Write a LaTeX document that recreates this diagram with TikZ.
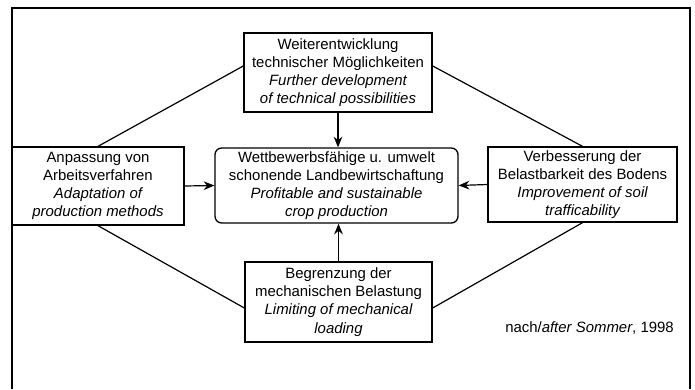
\documentclass[tikz,border=0pt]{standalone}
\usepackage{fontspec}
\setmainfont{Liberation Sans}
\usetikzlibrary{arrows.meta}

\tikzset{every picture/.style={line width=0.75pt}}
\tikzset{
  box/.style={draw, line width=1pt, inner sep=0.75pt, align=center,
    font=\fontsize{11.2}{13.6}\selectfont},
  link/.style={line width=0.9pt},
  feed/.style={line width=0.9pt, -{Stealth[length=8pt,width=6.5pt]}}
}

\begin{document}
\begin{tikzpicture}[x=0.75pt,y=0.75pt,yscale=-1,xscale=1]
\useasboundingbox (0,0) rectangle (695,389);

%Shape: Frame
\draw [line width=1.4pt] (12,389) -- (12,8) -- (690,8) -- (690,389) ;

% Text Node
\node (top) [box, minimum width=141pt, minimum height=59.25pt] at (338,72.5)
  {Weiterentwicklung\\technischer Möglichkeiten\\\itshape Further development\\\itshape of technical possibilities};
% Text Node
\node (left) [box, minimum width=129pt, minimum height=58.5pt] at (98,186)
  {Anpassung von\\Arbeitsverfahren\\\itshape Adaptation of\\\itshape production methods};
% Text Node
\node (mid) [box, rounded corners=5pt, minimum width=182.25pt, minimum height=56.25pt] at (336.5,185.5)
  {Wettbewerbsfähige u. umwelt\\schonende Landbewirtschaftung\\\itshape Profitable and sustainable\\\itshape crop production};
% Text Node
\node (right) [box, minimum width=141.75pt, minimum height=56.25pt] at (582.5,184.5)
  {Verbesserung der\\Belastbarkeit des Bodens\\\itshape Improvement of soil\\\itshape trafficability};
% Text Node
\node (bot) [box, minimum width=140.25pt, minimum height=60pt] at (338.5,302)
  {Begrenzung der\\mechanischen Belastung\\\itshape Limiting of mechanical\\\itshape loading};
% Text Node
\node (src) [inner sep=0.75pt, font=\fontsize{11.2}{13.6}\selectfont] at (589.5,328)
  {nach/\textit{after Sommer}, 1998};

%Straight Lines
\draw [feed] (top.south) -- (top.south |- mid.north) ;
\draw [feed] (bot.north) -- (bot.north |- mid.south) ;
\draw [feed] (left.east) -- (mid.west) ;
\draw [feed] (right.west) -- (mid.east) ;

%Straight Lines
\draw [link] (left.north) -- ([yshift=-4.9pt]top.west) ;
\draw [link] (right.north) -- ([yshift=-4.9pt]top.east) ;
\draw [link] (left.south) -- ([yshift=4.5pt]bot.west) ;
\draw [link] (right.south) -- ([yshift=4.5pt]bot.east) ;

\end{tikzpicture}
\end{document}
